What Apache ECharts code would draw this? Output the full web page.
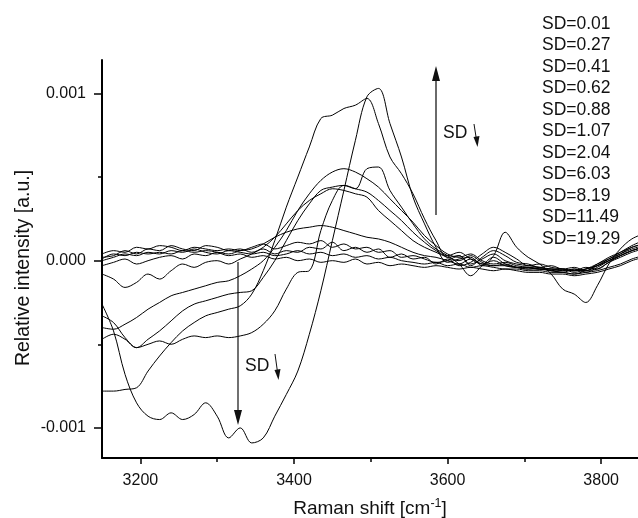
<!DOCTYPE html>
<html>
<head>
<meta charset="utf-8">
<script src="https://cdn.jsdelivr.net/npm/echarts@6/dist/echarts.min.js"></script>
<style>
  html, body { margin: 0; padding: 0; background: #fff; }
  #chart { width: 638px; height: 518px; }
</style>
</head>
<body>
<div id="chart"></div>
<script>
// Raman shift (cm-1), one sample every 15
var shifts = [3150,3165,3180,3195,3210,3225,3240,3255,3270,3285,3300,3315,3330,3345,3360,3375,3390,3405,3420,3435,3450,3465,3480,3495,3510,3525,3540,3555,3570,3585,3600,3615,3630,3645,3660,3675,3690,3705,3720,3735,3750,3765,3780,3795,3810,3825,3840,3855];

// relative intensity, in units of 0.001 a.u.
var sd001 = [-0.26,-0.42,-0.68,-0.85,-0.93,-0.95,-0.91,-0.95,-0.92,-0.85,-0.93,-1.06,-1.00,-1.09,-1.06,-0.93,-0.80,-0.66,-0.44,-0.18,0.12,0.42,0.72,0.98,1.03,0.82,0.62,0.38,0.22,0.08,-0.01,0.01,0.02,-0.03,0.03,0.17,0.08,0.02,-0.02,-0.08,-0.17,-0.20,-0.25,-0.15,-0.02,0.07,0.13,0.16];
var sd027 = [-0.78,-0.78,-0.77,-0.76,-0.66,-0.57,-0.49,-0.42,-0.37,-0.33,-0.31,-0.29,-0.27,-0.20,-0.06,0.12,0.32,0.50,0.68,0.85,0.87,0.91,0.93,0.97,0.82,0.62,0.52,0.40,0.25,0.12,0.02,0.03,-0.02,0.01,0.04,0.00,-0.02,-0.03,-0.04,-0.05,-0.06,-0.05,-0.07,-0.04,0.00,0.04,0.08,0.10];
var sd041 = [-0.47,-0.44,-0.47,-0.52,-0.50,-0.48,-0.50,-0.47,-0.45,-0.46,-0.45,-0.46,-0.45,-0.43,-0.38,-0.30,-0.17,-0.07,-0.06,0.18,0.36,0.45,0.43,0.55,0.56,0.42,0.32,0.22,0.13,0.07,0.03,-0.02,-0.09,-0.03,0.02,-0.02,-0.04,-0.05,-0.05,-0.06,-0.07,-0.08,-0.06,-0.05,-0.01,0.03,0.06,0.08];
var sd062 = [-0.40,-0.41,-0.38,-0.34,-0.29,-0.25,-0.21,-0.19,-0.17,-0.15,-0.13,-0.12,-0.09,-0.05,0.00,0.08,0.18,0.30,0.40,0.48,0.53,0.55,0.53,0.49,0.44,0.37,0.30,0.23,0.15,0.09,0.04,0.02,0.04,0.00,-0.02,-0.01,-0.03,-0.04,-0.05,-0.05,-0.06,-0.06,-0.05,-0.03,0.00,0.03,0.06,0.08];
var sd088 = [-0.33,-0.37,-0.46,-0.52,-0.47,-0.42,-0.36,-0.30,-0.26,-0.24,-0.22,-0.20,-0.19,-0.18,-0.10,0.00,0.12,0.24,0.34,0.42,0.44,0.45,0.43,0.41,0.36,0.30,0.24,0.17,0.11,0.06,0.03,0.05,0.01,-0.02,0.00,-0.03,-0.04,-0.04,-0.05,-0.06,-0.07,-0.05,-0.06,-0.03,0.01,0.04,0.07,0.09];
var sd107 = [-0.08,-0.11,-0.16,-0.13,-0.08,-0.11,-0.06,-0.02,-0.04,-0.01,0.00,-0.02,0.01,0.04,0.08,0.14,0.22,0.30,0.36,0.40,0.43,0.42,0.40,0.38,0.30,0.24,0.18,0.12,0.08,0.05,0.02,0.00,0.03,-0.01,-0.03,-0.02,-0.04,-0.05,-0.04,-0.06,-0.05,-0.07,-0.05,-0.02,0.02,0.05,0.08,0.10];
var sd204 = [-0.03,-0.01,0.01,-0.02,0.00,0.02,0.03,0.01,0.04,0.03,0.05,0.04,0.06,0.07,0.10,0.14,0.17,0.19,0.20,0.21,0.20,0.18,0.16,0.14,0.13,0.11,0.08,0.05,0.03,0.02,0.00,-0.02,0.01,-0.02,-0.03,-0.03,-0.04,-0.04,-0.05,-0.05,-0.05,-0.06,-0.05,-0.03,0.00,0.03,0.06,0.08];
var sd603 = [0.04,0.06,0.05,0.08,0.07,0.09,0.08,0.06,0.08,0.07,0.06,0.07,0.06,0.08,0.10,0.07,0.09,0.11,0.10,0.12,0.08,0.10,0.07,0.08,0.05,0.06,0.02,0.03,0.01,-0.01,0.00,0.03,-0.03,0.02,0.06,0.03,-0.01,-0.02,-0.04,-0.03,-0.05,-0.04,-0.06,-0.02,0.01,0.05,0.09,0.12];
var sd819 = [0.02,0.03,0.06,0.04,0.07,0.06,0.09,0.07,0.06,0.09,0.08,0.06,0.07,0.05,0.07,0.04,0.06,0.05,0.08,0.07,0.11,0.06,0.08,0.05,0.07,0.02,0.04,0.01,0.02,-0.02,0.01,-0.03,-0.01,0.04,0.08,0.05,0.01,-0.03,-0.02,-0.04,-0.05,-0.06,-0.04,-0.05,-0.01,0.02,0.05,0.07];
var sd1149 = [0.00,0.02,0.04,0.03,0.05,0.04,0.06,0.05,0.07,0.05,0.04,0.06,0.05,0.04,0.05,0.03,0.04,0.06,0.04,0.05,0.03,0.04,0.02,0.03,0.01,0.02,0.00,-0.01,-0.02,-0.01,-0.03,-0.02,-0.04,-0.03,-0.04,-0.05,-0.05,-0.06,-0.06,-0.07,-0.07,-0.08,-0.07,-0.06,-0.04,-0.02,0.01,0.03];
var sd1929 = [0.01,0.04,0.03,0.05,0.04,0.05,0.04,0.06,0.05,0.06,0.05,0.03,0.04,0.02,0.03,0.01,0.02,0.00,0.01,-0.01,0.00,-0.01,0.01,-0.02,-0.01,-0.03,-0.02,-0.03,-0.04,-0.03,-0.04,-0.05,-0.04,-0.05,-0.06,-0.05,-0.06,-0.07,-0.07,-0.08,-0.08,-0.09,-0.08,-0.07,-0.05,-0.03,0.00,0.02];

var curves = [sd001, sd027, sd041, sd062, sd088, sd107, sd204, sd603, sd819, sd1149, sd1929];
var sdLabels = ['SD=0.01','SD=0.27','SD=0.41','SD=0.62','SD=0.88','SD=1.07','SD=2.04','SD=6.03','SD=8.19','SD=11.49','SD=19.29'];

var xMajor = [3200, 3400, 3600, 3800];
var xMinor = [3300, 3500, 3700];
var yMajor = [-1, 0, 1];
var yMinor = [-0.5, 0.5];

var font = '"Liberation Sans", Arial, sans-serif';
var chart = echarts.init(document.getElementById('chart'), null, { renderer: 'canvas' });

var series = curves.map(function (ys, k) {
  return {
    name: sdLabels[k],
    type: 'line',
    xAxisIndex: 0,
    yAxisIndex: 0,
    data: shifts.map(function (x, i) { return [x, ys[i]]; }),
    showSymbol: false,
    symbol: 'none',
    smooth: 0.35,
    clip: true,
    lineStyle: { color: '#000', width: 1 },
    silent: true
  };
});

// legend text, one per line on the right
var graphics = sdLabels.map(function (t, i) {
  return {
    type: 'text', left: 542, top: 15 + i * 21.5,
    style: { text: t, font: '17.5px ' + font, fill: '#111' }
  };
});

// y title sits a little below the axis middle in the original, so place it by hand
graphics.push({
  type: 'text', x: 24, y: 268, rotation: Math.PI / 2,
  style: { text: 'Relative intensity [a.u.]', font: '19.5px ' + font, fill: '#111', align: 'center', verticalAlign: 'middle' }
});

// arrows with "SD↓" notes
graphics.push(
  { type: 'line', shape: { x1: 436, y1: 215, x2: 436, y2: 78 }, style: { stroke: '#6a6a6a', lineWidth: 2 } },
  { type: 'polygon', shape: { points: [[436, 66], [432, 81], [440, 81]] }, style: { fill: '#111' } },
  { type: 'text', left: 443, top: 124, style: { text: 'SD', font: '17.5px ' + font, fill: '#111' } },
  { type: 'line', shape: { x1: 474, y1: 124, x2: 476.5, y2: 140 }, style: { stroke: '#111', lineWidth: 1 } },
  { type: 'polygon', shape: { points: [[477.5, 147], [473.5, 137], [479.5, 136]] }, style: { fill: '#111' } },

  { type: 'line', shape: { x1: 238, y1: 262, x2: 238, y2: 412 }, style: { stroke: '#111', lineWidth: 1.2 } },
  { type: 'polygon', shape: { points: [[238, 425], [234, 410], [242, 410]] }, style: { fill: '#111' } },
  { type: 'text', left: 245, top: 357, style: { text: 'SD', font: '17.5px ' + font, fill: '#111' } },
  { type: 'line', shape: { x1: 275, y1: 354, x2: 277.5, y2: 372 }, style: { stroke: '#111', lineWidth: 1 } },
  { type: 'polygon', shape: { points: [[278.5, 380], [274.5, 370], [280.5, 369]] }, style: { fill: '#111' } }
);

var axisLineStyle = { show: true, onZero: false, lineStyle: { color: '#000', width: 2 } };

var option = {
  animation: false,
  backgroundColor: '#fff',
  grid: { left: 102, right: 0, top: 60, bottom: 60, containLabel: false, outerBoundsMode: 'none' },
  xAxis: [{
    type: 'value', min: 3150, max: 3848,
    position: 'bottom',
    name: '{t|Raman shift [cm}{s|-1}{t|]}',
    nameLocation: 'middle', nameGap: 39,
    nameTextStyle: {
      rich: {
        t: { fontSize: 19, fontFamily: font, color: '#111', lineHeight: 23 },
        s: { fontSize: 12.5, fontFamily: font, color: '#111', lineHeight: 23, verticalAlign: 'top', padding: [0, 0, 8, 0] }
      }
    },
    axisLine: axisLineStyle,
    splitLine: { show: false },
    axisTick: { show: true, customValues: xMajor, length: 6, inside: false, lineStyle: { color: '#000', width: 1.5 } },
    axisLabel: {
      customValues: xMajor, margin: 15, fontSize: 16, fontFamily: font, color: '#111',
      formatter: function (v) { return String(v); }
    }
  }, {
    // minor ticks only
    type: 'value', min: 3150, max: 3848, position: 'bottom', offset: 0,
    axisLine: { show: false, onZero: false },
    splitLine: { show: false },
    axisTick: { show: true, customValues: xMinor, length: 4, lineStyle: { color: '#000', width: 1.5 } },
    axisLabel: { show: false }
  }],
  yAxis: [{
    type: 'value', min: -1.18, max: 1.2,
    axisLine: axisLineStyle,
    splitLine: { show: false },
    axisTick: { show: true, customValues: yMajor, length: 8, lineStyle: { color: '#000', width: 1.5 } },
    axisLabel: {
      customValues: yMajor, margin: 16, fontSize: 16, fontFamily: font, color: '#111',
      formatter: function (v) { return (v / 1000).toFixed(3); }
    }
  }, {
    type: 'value', min: -1.18, max: 1.2, position: 'left', offset: 0,
    axisLine: { show: false, onZero: false },
    splitLine: { show: false },
    axisTick: { show: true, customValues: yMinor, length: 4, lineStyle: { color: '#000', width: 1.5 } },
    axisLabel: { show: false }
  }],
  series: series,
  graphic: graphics
};

chart.setOption(option);
</script>
</body>
</html>
